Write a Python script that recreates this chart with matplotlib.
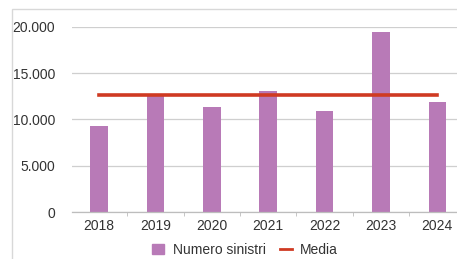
import numpy as np
import matplotlib.pyplot as plt
from matplotlib.patches import Rectangle
from matplotlib.lines import Line2D

plt.rcParams['font.family'] = ['Liberation Sans', 'DejaVu Sans']

years = ['2018', '2019', '2020', '2021', '2022', '2023', '2024']
sinistri = [9350, 12500, 11300, 13050, 10950, 19450, 11850]
media = np.mean(sinistri)

fig = plt.figure(figsize=(4.57, 2.59), dpi=100)
W, H = 457, 259

# light frame of the original chart
fig.add_artist(Rectangle((12 / W, -0.1), 1.2, (259 - 9) / H + 0.1,
                         transform=fig.transFigure, fill=False,
                         edgecolor='#d8d8d8', lw=1.0))

ax = fig.add_axes([72 / W, (259 - 212) / H, (457 - 72) / W, (212 - 27) / H])
x = np.arange(len(years))
ax.bar(x, sinistri, width=0.31, color='#b87ab7', zorder=2)
ax.plot([x[0], x[-1]], [media, media], color='#cf3a22', lw=2.6, zorder=3)

ax.set_xlim(-0.48, 6.35)
ax.set_ylim(0, 20000)
ax.set_yticks([0, 5000, 10000, 15000, 20000])
ax.set_yticklabels(['0', '5.000', '10.000', '15.000', '20.000'])
ax.set_xticks(x)
ax.set_xticklabels(years)
ax.yaxis.grid(True, color='#cfcfcf', lw=0.9, zorder=0)
ax.tick_params(axis='y', length=0, pad=12, labelsize=10, labelcolor='#333333')
ax.tick_params(axis='x', length=0, pad=5, labelsize=10, labelcolor='#333333')
for s in ['top', 'right', 'left']:
    ax.spines[s].set_visible(False)
ax.spines['bottom'].set_color('#bdbdbd')
ax.spines['bottom'].set_linewidth(0.9)
# minor ticks between categories
ax.set_xticks(x[:-1] + 0.5, minor=True)
ax.tick_params(axis='x', which='minor', length=3, color='#bdbdbd', direction='out')

handles = [Rectangle((0, 0), 1, 1, color='#b87ab7'),
           Line2D([0], [0], color='#cf3a22', lw=2)]
fig.legend(handles, ['Numero sinistri', 'Media'], loc='center',
           bbox_to_anchor=(245 / W, 1 - 250 / H), ncol=2, frameon=False,
           fontsize=10, handlelength=0.9, handletextpad=0.6, columnspacing=1.0,
           labelcolor='#333333', borderpad=0.1)

fig.savefig('out.png', dpi=100)
